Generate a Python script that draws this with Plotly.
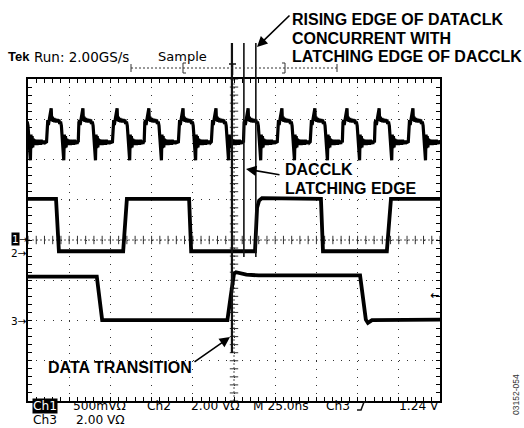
import numpy as np
import plotly.graph_objects as go

# ---------------- data (screen divisions: x 0..10 div @ 25 ns/div, y 0..8 div) -------------
# Channel 1: one period of the waveform (offset from rising edge, level) and rising-edge positions
ch1_shape_t = [0.000, 0.015, 0.030, 0.045, 0.060, 0.080, 0.100, 0.113, 0.125, 0.140, 0.160, 0.180,
               0.200, 0.220, 0.240, 0.260, 0.280, 0.300, 0.320, 0.340, 0.360, 0.375, 0.390, 0.405,
               0.418, 0.432, 0.445, 0.460, 0.475, 0.490, 0.505, 0.520, 0.540, 0.560, 0.580, 0.600,
               0.620, 0.640, 0.660, 0.680, 0.700, 0.720, 0.740, 0.760, 0.780]
ch1_shape_v = [6.44, 6.92, 6.98, 6.86, 6.95, 7.02, 7.08, 7.27, 6.96, 7.06, 6.94, 7.03,
               6.93, 7.01, 6.92, 7.00, 6.93, 6.99, 6.88, 6.94, 6.84, 6.55, 6.20, 6.05,
               5.98, 6.62, 6.28, 6.58, 6.30, 6.52, 6.36, 6.50, 6.37, 6.48, 6.36, 6.49,
               6.38, 6.47, 6.37, 6.49, 6.38, 6.46, 6.39, 6.47, 6.42]
ch1_rise = [-0.36, 0.45, 1.22, 2.05, 2.82, 3.65, 4.45, 5.23, 6.05, 6.85, 7.63, 8.41, 9.23]

# Channel 2 (DACCLK square wave)
ch2_t = [0.00, 0.68, 0.75, 2.31, 2.40, 3.91, 3.96, 5.51, 5.56, 5.61, 5.68, 7.11, 7.16, 8.71, 8.81, 10.0]
ch2_v = [5.02, 5.02, 3.72, 3.72, 5.02, 5.02, 3.72, 3.72, 4.80, 4.98, 5.04, 5.02, 3.72, 3.72, 5.02, 5.02]

# Channel 3 (data)
ch3_t = [0.00, 1.67, 1.80, 4.84, 4.92, 5.00, 5.05, 5.30, 5.60, 8.06, 8.20, 8.25, 8.35, 10.0]
ch3_v = [3.09, 3.09, 2.01, 2.01, 2.60, 3.16, 3.20, 3.14, 3.12, 3.12, 2.02, 1.94, 2.01, 2.02]

# Cursor lines (x in div)
cursor_x = [4.95, 5.24, 5.53]

# ---------------- geometry ----------------
W, H = 524, 428
L, R, T, B = 28, 440, 79, 401
NX, NY = 10, 8


def px(xp):
    return (xp - L) / (R - L)


def py(yp):
    return (B - yp) / (B - T)


ch1_x, ch1_y = [], []
for s in ch1_rise:
    for t, v in zip(ch1_shape_t, ch1_shape_v):
        ch1_x.append(s + t)
        ch1_y.append(v)

fig = go.Figure()

# graticule centre-line ticks
tick_h = np.round(np.arange(0, NX + 0.001, 0.2), 2)
tick_v = np.round(np.arange(0, NY + 0.001, 0.2), 2)
fig.add_trace(go.Scatter(x=tick_h, y=[NY / 2] * len(tick_h), mode="markers",
                         marker=dict(symbol="line-ns", size=6, line=dict(width=1, color="#333")),
                         hoverinfo="skip", showlegend=False))
fig.add_trace(go.Scatter(x=[NX / 2] * len(tick_v), y=tick_v, mode="markers",
                         marker=dict(symbol="line-ew", size=6, line=dict(width=1, color="#333")),
                         hoverinfo="skip", showlegend=False))

for xs, ys, w in [(ch1_x, ch1_y, 3.2), (ch2_t, ch2_v, 3.8), (ch3_t, ch3_v, 3.8)]:
    fig.add_trace(go.Scatter(x=xs, y=ys, mode="lines", line=dict(color="black", width=w),
                             hoverinfo="skip", showlegend=False))

shapes = []
# centre lines
shapes.append(dict(type="line", xref="x", yref="y", x0=NX / 2, x1=NX / 2, y0=0, y1=NY,
                   line=dict(color="#555", width=1, dash="2px,2px"), layer="below"))
shapes.append(dict(type="line", xref="x", yref="y", x0=0, x1=NX, y0=NY / 2, y1=NY / 2,
                   line=dict(color="#555", width=1, dash="2px,2px"), layer="below"))

# cursor lines
ends = [353, 257, 257]
widths = [2.2, 1.6, 1.6]
for cx, e, w in zip(cursor_x, ends, widths):
    shapes.append(dict(type="line", xref="paper", yref="paper", x0=cx / NX, x1=cx / NX,
                       y0=py(43), y1=py(e), line=dict(color="#111", width=w)))

# record bar
shapes.append(dict(type="line", xref="paper", yref="paper", x0=px(131), x1=px(337),
                   y0=py(68), y1=py(68), line=dict(color="#333", width=1, dash="2px,2px")))
for xx in (131, 337):
    shapes.append(dict(type="line", xref="paper", yref="paper", x0=px(xx), x1=px(xx),
                       y0=py(64), y1=py(72), line=dict(color="#333", width=1)))


def path(pts):
    return " ".join(("M" if i == 0 else "L") + f"{px(a):.5f},{py(b):.5f}" for i, (a, b) in enumerate(pts))


shapes.append(dict(type="path", xref="paper", yref="paper",
                   path=path([(186, 63), (183, 63), (183, 73), (186, 73)]), line=dict(color="#333", width=1)))
shapes.append(dict(type="path", xref="paper", yref="paper",
                   path=path([(282, 63), (285, 63), (285, 73), (282, 73)]), line=dict(color="#333", width=1)))
shapes.append(dict(type="path", xref="paper", yref="paper",
                   path=path([(229, 64), (236, 64)]), line=dict(color="#111", width=1.5)))
shapes.append(dict(type="path", xref="paper", yref="paper",
                   path=path([(232.5, 64), (232.5, 75)]), line=dict(color="#111", width=1.5)))
# trigger slope glyph
shapes.append(dict(type="path", xref="paper", yref="paper",
                   path=path([(357, 410), (361, 410), (364, 402), (368, 402)]), line=dict(color="#111", width=1.5)))

ann = []


def txt(s, x, y, size=13.5, family="DejaVu Sans", color="black", xanchor="left", bg=None, angle=0):
    d = dict(text=s, x=px(x), y=py(y), xref="paper", yref="paper", showarrow=False,
             xanchor=xanchor, yanchor="middle", font=dict(size=size, family=family, color=color),
             textangle=angle, borderpad=0)
    if bg:
        d["bgcolor"] = bg
    ann.append(d)


def arrow(tx, ty, hx, hy):
    ann.append(dict(text="", x=px(hx), y=py(hy), xref="paper", yref="paper", showarrow=True,
                    ax=tx - hx, ay=ty - hy, axref="pixel", ayref="pixel",
                    arrowhead=2, arrowsize=1.3, arrowwidth=1.6, arrowcolor="black"))


# header
txt("<b>Tek</b>", 7, 57, size=13, family="Liberation Sans")
txt("Run: 2.00GS/s", 33, 57)
txt("Sample", 157, 57, size=13)

bold = "Liberation Sans"
txt("<b>RISING EDGE OF DATACLK</b>", 291, 19, size=16, family=bold)
txt("<b>CONCURRENT WITH</b>", 291, 38, size=16, family=bold)
txt("<b>LATCHING EDGE OF DACCLK</b>", 291, 57, size=16, family=bold)
arrow(291, 14, 257, 47)

txt("<b>DACCLK</b>", 284, 169, size=16, family=bold)
txt("<b>LATCHING EDGE</b>", 284, 188, size=16, family=bold)
arrow(281, 175, 246, 169)

txt("<b>DATA TRANSITION</b>", 47, 367, size=16, family=bold)
arrow(193, 363, 230, 337)

# channel ground markers
txt("1", 11, 239, size=10.5, color="white", bg="black", family="DejaVu Sans")
txt("→", 18, 239, size=10)
txt("2→", 28, 253, size=10.5, xanchor="right")
txt("3→", 28, 321, size=10.5, xanchor="right")
txt("<b>←</b>", 440, 295, size=11, xanchor="right")

# footer
fs = 12.2
txt("Ch1", 32, 406, size=fs, color="white", bg="black")
txt("500mVΩ", 72, 406, size=fs)
txt("Ch2", 146, 406, size=fs)
txt("2.00 VΩ", 190, 406, size=fs)
txt("M 25.0ns", 252, 406, size=fs)
txt("Ch3", 325, 406, size=fs)
txt("1.24 V", 398, 406, size=fs)
txt("Ch3", 32, 420, size=fs)
txt("2.00 VΩ", 75, 420, size=fs)

txt("03152-054", 516, 395, size=8.5, family="Liberation Sans", color="#333", xanchor="center", angle=-90)

axis_common = dict(showline=True, linecolor="black", linewidth=1.5, mirror="ticks",
                   ticks="inside", ticklen=4, tickcolor="black", tickwidth=1,
                   showticklabels=False, zeroline=False, showgrid=True, gridcolor="#333", gridwidth=1,
                   fixedrange=True)

fig.update_layout(
    width=W, height=H,
    margin=dict(l=L, r=W - R, t=T, b=H - B, autoexpand=False),
    paper_bgcolor="white", plot_bgcolor="white",
    xaxis=dict(range=[0, NX], dtick=1, tick0=0, griddash="1px,7.05px",
               minor=dict(dtick=0.2, ticks="inside", ticklen=4, tickcolor="black", showgrid=False),
               **axis_common),
    yaxis=dict(range=[0, NY], dtick=1, tick0=0, griddash="1px,7.24px",
               minor=dict(dtick=0.2, ticks="inside", ticklen=4, tickcolor="black", showgrid=False),
               **axis_common),
    shapes=shapes, annotations=ann, showlegend=False,
)

fig.write_html("out.html", config={"displayModeBar": False},
               post_script="document.body.style.margin='0px';document.body.style.overflow='hidden';")
